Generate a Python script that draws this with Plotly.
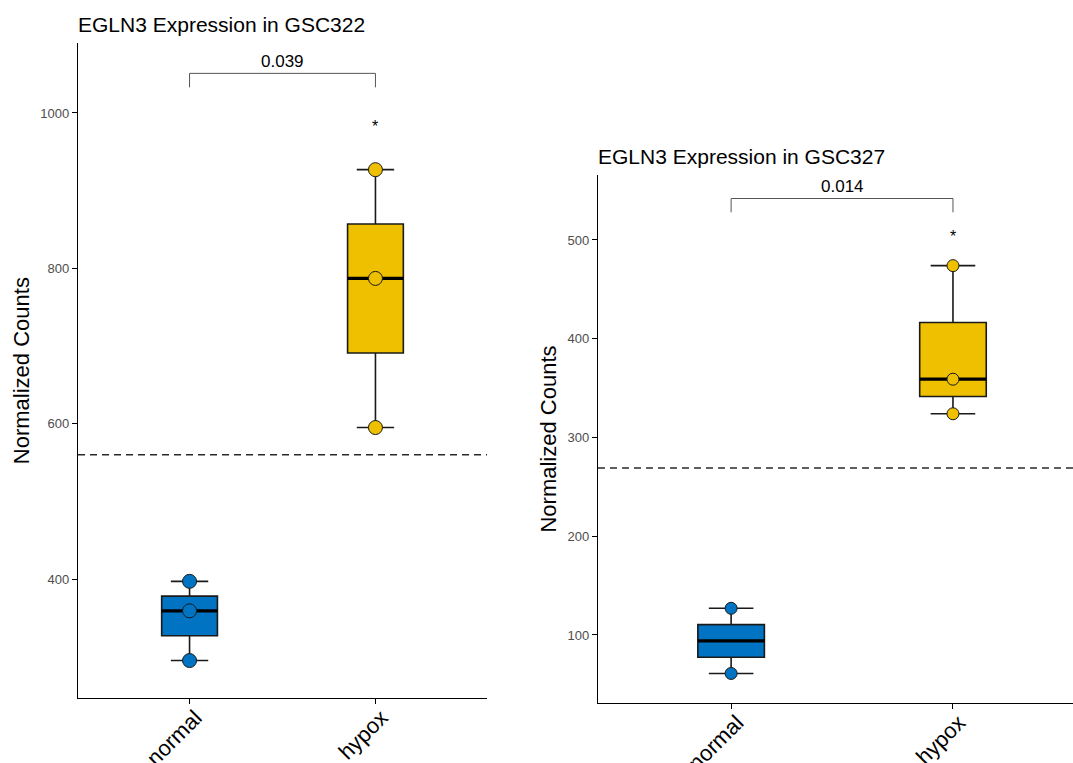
import numpy as np
import plotly.graph_objects as go

groups = ["normal", "hypox"]
group_colors = ["#0073C2", "#EFC000"]

# GSC322 values
gsc322_normal = [397, 359, 295]
gsc322_hypox = [927, 787, 595]
gsc322_normal_pts = [397, 359, 295]
gsc322_hypox_pts = [927, 787, 595]
gsc322_refline = 560
gsc322_bracket = [1051, 1033]
gsc322_pval = "0.039"
gsc322_star_y = 983
gsc322_yrange = [246.8, 1089.7]
gsc322_ticks = [400, 600, 800, 1000]

# GSC327 values
gsc327_normal = [127, 94, 61]
gsc327_hypox = [474, 359, 324]
gsc327_normal_pts = [127, 61]
gsc327_hypox_pts = [474, 359, 324]
gsc327_refline = 269
gsc327_bracket = [542, 528]
gsc327_pval = "0.014"
gsc327_star_y = 504
gsc327_yrange = [31.1, 565.8]
gsc327_ticks = [100, 200, 300, 400, 500]

W, H = 1073, 763
FONT = "Liberation Sans, Arial, Helvetica, sans-serif"


def px_x(px):
    return min(1.0, px / W)


def px_y(py):
    return 1 - py / H


fig = go.Figure()
shapes = []
annotations = []

panels = [
    dict(xa="x", ya="y", data=[gsc322_normal, gsc322_hypox], pts=[gsc322_normal_pts, gsc322_hypox_pts],
         ref=gsc322_refline, br=gsc322_bracket, pv=gsc322_pval, star=gsc322_star_y,
         title="EGLN3 Expression in GSC322", xdom=[px_x(78), px_x(487)], ydom=[px_y(698), px_y(43.3)],
         yr=gsc322_yrange, ticks=gsc322_ticks, xr=[0.4, 2.6], msize=14),
    dict(xa="x2", ya="y2", data=[gsc327_normal, gsc327_hypox], pts=[gsc327_normal_pts, gsc327_hypox_pts],
         ref=gsc327_refline, br=gsc327_bracket, pv=gsc327_pval, star=gsc327_star_y,
         title="EGLN3 Expression in GSC327", xdom=[px_x(598), px_x(1073)], ydom=[px_y(703), px_y(175)],
         yr=gsc327_yrange, ticks=gsc327_ticks, xr=[0.4, 2.541], msize=12),
]

for p in panels:
    for i, (vals, pts) in enumerate(zip(p["data"], p["pts"])):
        xpos = i + 1
        fig.add_trace(go.Box(
            y=vals, x=[xpos] * len(vals), xaxis=p["xa"], yaxis=p["ya"],
            boxpoints=False, fillcolor=group_colors[i],
            line=dict(color="#1a1a1a", width=1.6), width=0.3, whiskerwidth=0.67,
            quartilemethod="inclusive", showlegend=False, hoverinfo="skip"))
        med = float(np.median(vals))
        fig.add_trace(go.Scatter(
            x=[xpos - 0.15, xpos + 0.15], y=[med, med], mode="lines",
            line=dict(color="black", width=3.2), xaxis=p["xa"], yaxis=p["ya"],
            showlegend=False, hoverinfo="skip"))
        fig.add_trace(go.Scatter(
            x=[xpos] * len(pts), y=pts, mode="markers", xaxis=p["xa"], yaxis=p["ya"],
            marker=dict(size=p["msize"], color=group_colors[i], line=dict(color="#1a1a1a", width=1)),
            showlegend=False, hoverinfo="skip"))
    xd = p["xa"] + " domain"
    shapes.append(dict(type="line", xref=xd, yref=p["ya"], x0=0, x1=1, y0=p["ref"], y1=p["ref"],
                       line=dict(color="#2a2a2a", width=1.5, dash="7px,5px")))
    # significance bracket
    for (x0, y0, x1, y1) in [(1, p["br"][0], 2, p["br"][0]), (1, p["br"][1], 1, p["br"][0]), (2, p["br"][1], 2, p["br"][0])]:
        shapes.append(dict(type="line", xref=p["xa"], yref=p["ya"], x0=x0, x1=x1, y0=y0, y1=y1,
                           line=dict(color="#555555", width=1)))
    annotations.append(dict(x=1.5, y=p["br"][0], xref=p["xa"], yref=p["ya"], text=p["pv"], showarrow=False,
                            yanchor="bottom", yshift=0, font=dict(size=17, color="black", family=FONT)))
    annotations.append(dict(x=2, y=p["star"], xref=p["xa"], yref=p["ya"], text="*", showarrow=False,
                            yanchor="middle", font=dict(size=16, color="black", family=FONT)))
    annotations.append(dict(x=p["xdom"][0], y=p["ydom"][1], xref="paper", yref="paper", text=p["title"],
                            showarrow=False, xanchor="left", yanchor="bottom", yshift=5, xshift=-2,
                            font=dict(size=21, color="black", family=FONT)))

axis_common = dict(showgrid=False, zeroline=False, showline=True, linecolor="black", linewidth=1.3,
                   ticks="outside", ticklen=5, tickcolor="black", tickwidth=1.1, automargin=False)

layout = dict(
    width=W, height=H, margin=dict(l=0, r=0, t=0, b=0),
    paper_bgcolor="white", plot_bgcolor="white", boxmode="overlay",
    font=dict(family=FONT), shapes=shapes, annotations=annotations, showlegend=False,
)
for p in panels:
    xk = "xaxis" if p["xa"] == "x" else "xaxis2"
    yk = "yaxis" if p["ya"] == "y" else "yaxis2"
    layout[xk] = dict(axis_common, domain=p["xdom"], range=p["xr"], tickvals=[1, 2], ticktext=groups,
                      tickangle=-45, tickfont=dict(size=22, color="black", family=FONT),
                      ticklabelshift=6, ticklabelstandoff=-8, anchor=p["ya"])
    layout[yk] = dict(axis_common, domain=p["ydom"], range=p["yr"], tickvals=p["ticks"],
                      tickfont=dict(size=13, color="#4D4D4D", family=FONT), anchor=p["xa"],
                      title=dict(text="Normalized Counts", font=dict(size=22, color="black", family=FONT),
                                 standoff=4))

fig.update_layout(**layout)
fig.write_html("out.html", config={"displayModeBar": False},
               post_script="document.body.style.margin='0';document.body.style.overflow='hidden';")
